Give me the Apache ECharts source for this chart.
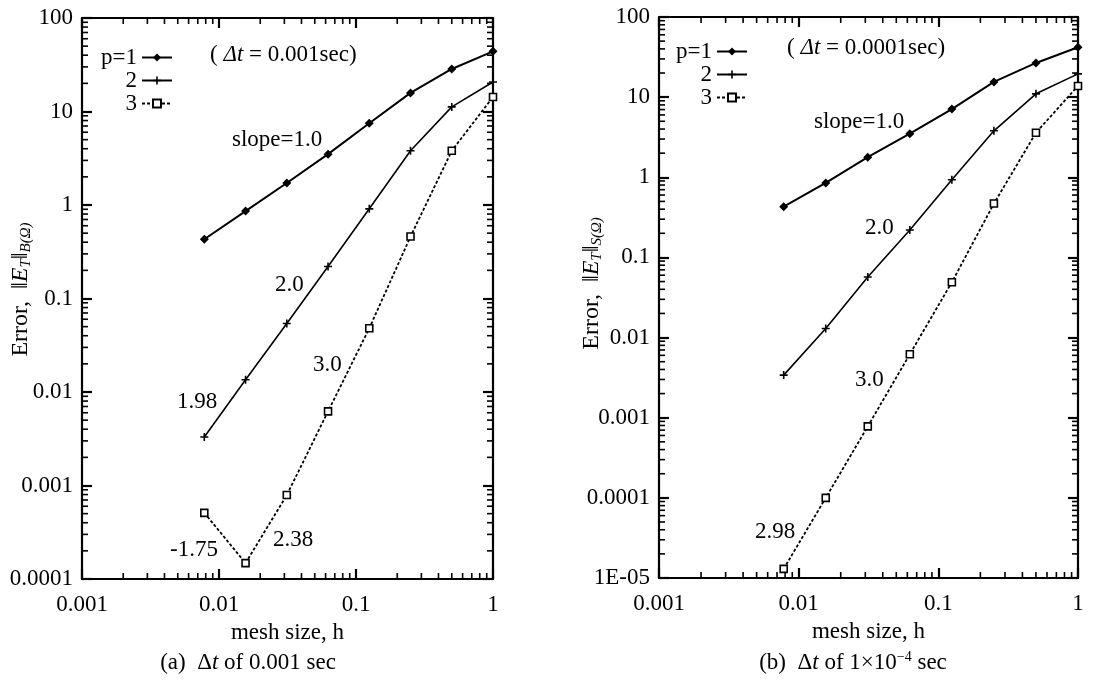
<!DOCTYPE html>
<html>
<head>
<meta charset="utf-8">
<script src="https://cdn.jsdelivr.net/npm/echarts@6/dist/echarts.min.js"></script>
<style>
  html, body { margin: 0; padding: 0; background: #fff; }
  #chart { width: 1107px; height: 682px; }
</style>
</head>
<body>
<div id="chart"></div>
<script>
// mesh sizes
const meshSize = [0.0078125, 0.015625, 0.03125, 0.0625, 0.125, 0.25, 0.5, 1];

// (a) dt = 0.001 sec
const errA1 = [0.43, 0.86, 1.72, 3.5, 7.5, 15.8, 28.5, 44];
const errA2 = [0.0033, 0.0135, 0.054, 0.22, 0.91, 3.8, 11.2, 20.7];
const errA3 = [0.00051, 0.000148, 0.00079, 0.0062, 0.048, 0.46, 3.8, 14.3];

// (b) dt = 1e-4 sec
const errB1 = [0.43, 0.85, 1.78, 3.5, 7.1, 15.5, 26.7, 42];
const errB2 = [0.0034, 0.013, 0.057, 0.22, 0.93, 3.8, 11, 19.5];
const errB3 = [0.000013, 0.0001, 0.00078, 0.0062, 0.049, 0.47, 3.6, 13.8];

const xTickLabels = ['0.001', '0.01', '0.1', '1'];
const yTickLabelsA = ['0.0001', '0.001', '0.01', '0.1', '1', '10', '100'];
const yTickLabelsB = ['1E-05', '0.0001', '0.001', '0.01', '0.1', '1', '10', '100'];

// minor tick steps inside each decade (2..9 x 10^k)
const minorSteps = [2, 3, 4, 5, 6, 7, 8, 9];

const FONT = '"Liberation Serif", "Times New Roman", serif';
const FS = 23;
const plusPath = 'path://M4,0h2v10h-2zM0,4h10v2h-10z';

function pairs(ys) {
  return meshSize.map((h, i) => [h, ys[i]]);
}

function labelFor(list, v) {
  const e = Math.round(Math.log10(v));
  const hit = list.find(s => Math.round(Math.log10(parseFloat(s))) === e);
  return hit || '';
}

function minorValues(list) {
  const out = [];
  list.slice(0, -1).forEach(s => {
    const d = parseFloat(s);
    minorSteps.forEach(m => out.push(d * m));
  });
  return out;
}

function tickStyle() {
  return {
    axisLine: { show: true, lineStyle: { color: '#000', width: 2.2 } },
    axisTick: { show: true, inside: true, length: 10, lineStyle: { color: '#000', width: 2.2 } },
    splitLine: { show: false }
  };
}

function xAxes(gridIndex) {
  const base = () => Object.assign({ type: 'log', logBase: 10, gridIndex, min: 0.001, max: 1 }, tickStyle());
  return [
    Object.assign(base(), {
      position: 'bottom',
      name: 'mesh size, h', nameLocation: 'middle', nameGap: 42,
      nameTextStyle: { color: '#000', fontFamily: FONT, fontSize: FS },
      axisLabel: {
        color: '#000', fontFamily: FONT, fontSize: FS, margin: 14,
        formatter: v => labelFor(xTickLabels, v)
      }
    }),
    Object.assign(base(), { position: 'top', axisLabel: { show: false } })
  ];
}

function yAxes(gridIndex, min, ticks, nameSub, gap, shift) {
  const base = () => Object.assign({ type: 'log', logBase: 10, gridIndex, min, max: 100 }, tickStyle());
  return [
    Object.assign(base(), {
      position: 'left',
      name: '{n|Error,  ‖}{i|E}{s|T}{n|‖}{s|' + nameSub + '(Ω)}',
      nameLocation: 'middle', nameGap: gap, nameRotate: 90, nameMoveOverlap: false,
      nameTextStyle: {
        color: '#000', fontFamily: FONT, fontSize: 24, padding: [0, 0, 0, shift],
        rich: {
          n: { fontFamily: FONT, fontSize: 24, color: '#000' },
          i: { fontFamily: FONT, fontSize: 24, fontStyle: 'italic', color: '#000' },
          s: { fontFamily: FONT, fontSize: 15, fontStyle: 'italic', color: '#000', padding: [12, 0, 0, 0] }
        }
      },
      axisLabel: {
        color: '#000', fontFamily: FONT, fontSize: FS, margin: 9,
        formatter: v => labelFor(ticks, v)
      }
    }),
    Object.assign(base(), { position: 'right', axisLabel: { show: false } })
  ];
}

// minor ticks on all four sides: short bar symbols placed through the log axes
function minorTickSeries(xi, yi, xVals, yVals, xMin, xMax, yMin, yMax) {
  const L = 6, W = 1.6;
  const data = []
    .concat(xVals.map(v => ({ value: [v, yMin], symbolSize: [W, L], symbolOffset: [0, -L / 2] })))
    .concat(xVals.map(v => ({ value: [v, yMax], symbolSize: [W, L], symbolOffset: [0, L / 2] })))
    .concat(yVals.map(v => ({ value: [xMin, v], symbolSize: [L, W], symbolOffset: [L / 2, 0] })))
    .concat(yVals.map(v => ({ value: [xMax, v], symbolSize: [L, W], symbolOffset: [-L / 2, 0] })));
  return {
    type: 'scatter', xAxisIndex: xi, yAxisIndex: yi, silent: true, clip: false,
    symbol: 'rect', itemStyle: { color: '#000', opacity: 1 }, z: 5,
    data
  };
}

function lineSeries(name, ys, xi, yi, opt) {
  return Object.assign({
    name, type: 'line', xAxisIndex: xi, yAxisIndex: yi,
    data: pairs(ys), showSymbol: true, animation: false,
    itemStyle: { color: '#000' }
  }, opt);
}

const s1 = { symbol: 'diamond', symbolSize: 9, lineStyle: { color: '#000', width: 2 } };
const s2 = { symbol: plusPath, symbolSize: 8, lineStyle: { color: '#000', width: 1.6 } };
const s3 = {
  symbol: 'rect', symbolSize: 7,
  itemStyle: { color: '#fff', borderColor: '#000', borderWidth: 1.6 },
  lineStyle: { color: '#000', width: 1.8, type: [3, 2] }
};

function note(x, y, text) {
  return {
    type: 'text', x, y,
    style: { text, fill: '#000', font: FS + 'px ' + FONT, textVerticalAlign: 'middle' }
  };
}

function richNote(x, y, text, align) {
  return {
    type: 'text', x, y,
    style: {
      text, fill: '#000', font: FS + 'px ' + FONT,
      textAlign: align || 'left', textVerticalAlign: 'middle',
      rich: {
        n: { fontFamily: FONT, fontSize: FS, fill: '#000' },
        i: { fontFamily: FONT, fontSize: FS, fontStyle: 'italic', fill: '#000' },
        sup: { fontFamily: FONT, fontSize: 14, fill: '#000', padding: [0, 0, 12, 0] }
      }
    }
  };
}

const legendBase = {
  orient: 'vertical', align: 'right', itemWidth: 30, itemHeight: 10, itemGap: 0,
  data: ['p=1', '2', '3'],
  textStyle: { color: '#000', fontFamily: FONT, fontSize: FS, width: 44, align: 'right', lineHeight: 22 }
};

const chart = echarts.init(document.getElementById('chart'));
chart.setOption({
  backgroundColor: '#fff',
  animation: false,
  grid: [
    { left: 82, top: 18, width: 411, height: 561, outerBoundsMode: 'none' },
    { left: 659, top: 17, width: 419, height: 561, outerBoundsMode: 'none' }
  ],
  legend: [
    Object.assign({}, legendBase, { left: 88, top: 41 }),
    Object.assign({}, legendBase, { left: 663, top: 35 })
  ],
  xAxis: xAxes(0).concat(xAxes(1)),
  yAxis: yAxes(0, 0.0001, yTickLabelsA, 'B', 48, 18)
    .concat(yAxes(1, 0.00001, yTickLabelsB, 'S', 54, 28)),
  series: [
    lineSeries('p=1', errA1, 0, 0, s1),
    lineSeries('2', errA2, 0, 0, s2),
    lineSeries('3', errA3, 0, 0, s3),
    lineSeries('p=1', errB1, 2, 2, s1),
    lineSeries('2', errB2, 2, 2, s2),
    lineSeries('3', errB3, 2, 2, s3),
    minorTickSeries(0, 0, minorValues(xTickLabels), minorValues(yTickLabelsA), 0.001, 1, 0.0001, 100),
    minorTickSeries(2, 2, minorValues(xTickLabels), minorValues(yTickLabelsB), 0.001, 1, 0.00001, 100)
  ],
  graphic: [
    richNote(210, 55, '{n|( }{i|Δt}{n| = 0.001sec)}'),
    note(232, 140, 'slope=1.0'),
    note(275, 285, '2.0'),
    note(177, 402, '1.98'),
    note(313, 365, '3.0'),
    note(170, 550, '-1.75'),
    note(273, 540, '2.38'),
    richNote(787, 48, '{n|( }{i|Δt}{n| = 0.0001sec)}'),
    note(814, 122, 'slope=1.0'),
    note(865, 228, '2.0'),
    note(855, 380, '3.0'),
    note(755, 532, '2.98'),
    richNote(248, 663, '{n|(a)  Δ}{i|t}{n| of 0.001 sec}', 'center'),
    richNote(853, 663, '{n|(b)  Δ}{i|t}{n| of 1×10}{sup|−4}{n| sec}', 'center')
  ]
});
</script>
</body>
</html>
